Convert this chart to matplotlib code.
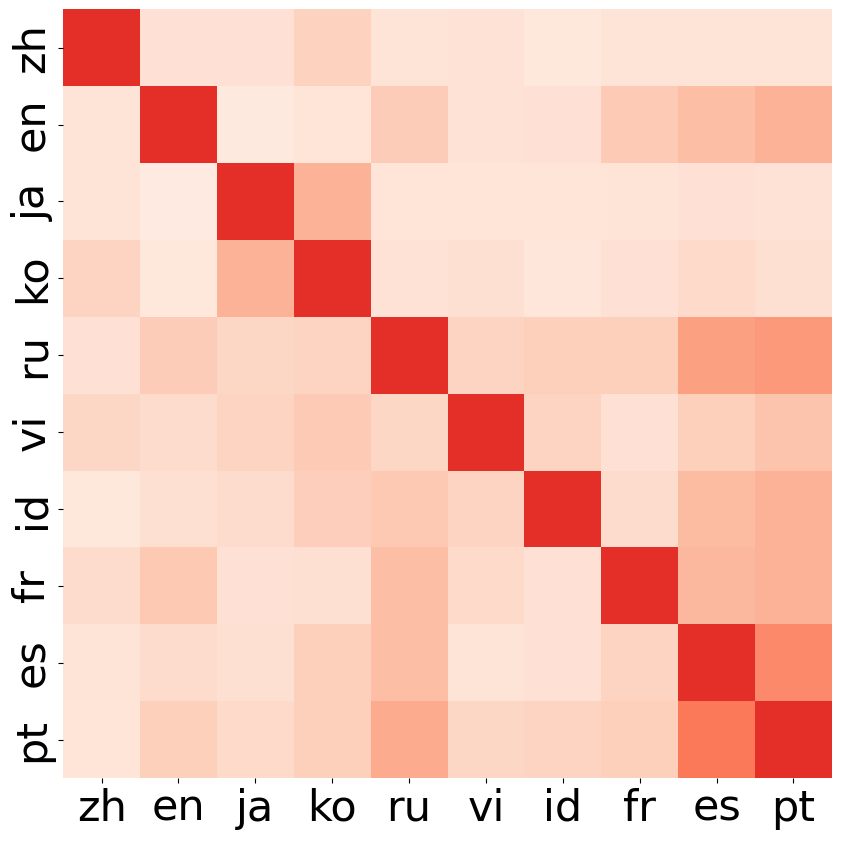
"""Language similarity heatmap."""

import matplotlib

matplotlib.use("Agg")
import matplotlib.pyplot as plt
import numpy as np
import seaborn as sns

LANGS = ["zh", "en", "ja", "ko", "ru", "vi", "id", "fr", "es", "pt"]

# similarity scores, rows/cols ordered as LANGS
ROW_ZH = [1.00, 0.18, 0.18, 0.26, 0.16, 0.17, 0.13, 0.16, 0.16, 0.16]
ROW_EN = [0.16, 1.00, 0.11, 0.15, 0.29, 0.17, 0.18, 0.30, 0.36, 0.42]
ROW_JA = [0.16, 0.10, 1.00, 0.42, 0.15, 0.15, 0.15, 0.16, 0.18, 0.17]
ROW_KO = [0.25, 0.13, 0.42, 1.00, 0.17, 0.19, 0.14, 0.18, 0.22, 0.19]
ROW_RU = [0.18, 0.29, 0.24, 0.25, 1.00, 0.25, 0.27, 0.27, 0.50, 0.53]
ROW_VI = [0.24, 0.21, 0.25, 0.30, 0.24, 1.00, 0.25, 0.18, 0.27, 0.33]
ROW_ID = [0.13, 0.19, 0.21, 0.28, 0.31, 0.25, 1.00, 0.21, 0.37, 0.42]
ROW_FR = [0.21, 0.31, 0.18, 0.19, 0.36, 0.22, 0.18, 1.00, 0.39, 0.42]
ROW_ES = [0.16, 0.21, 0.19, 0.27, 0.36, 0.16, 0.18, 0.25, 1.00, 0.60]
ROW_PT = [0.15, 0.27, 0.22, 0.27, 0.45, 0.24, 0.25, 0.27, 0.68, 1.00]

if __name__ == "__main__":
    scores = np.array(
        [ROW_ZH, ROW_EN, ROW_JA, ROW_KO, ROW_RU, ROW_VI, ROW_ID, ROW_FR, ROW_ES, ROW_PT]
    )

    fig = plt.figure(figsize=(8.42, 8.42), dpi=100)
    ax = fig.add_axes([0.075, 0.076, 0.913, 0.913])
    sns.heatmap(
        scores,
        cmap="Reds",
        vmin=0,
        vmax=1.5,
        cbar=False,
        xticklabels=LANGS,
        yticklabels=LANGS,
        ax=ax,
    )
    ax.tick_params(axis="both", labelsize=31)
    plt.setp(ax.get_yticklabels(), rotation=90, va="center")
    plt.setp(ax.get_xticklabels(), rotation=0)
    fig.savefig("out.png", dpi=100)
